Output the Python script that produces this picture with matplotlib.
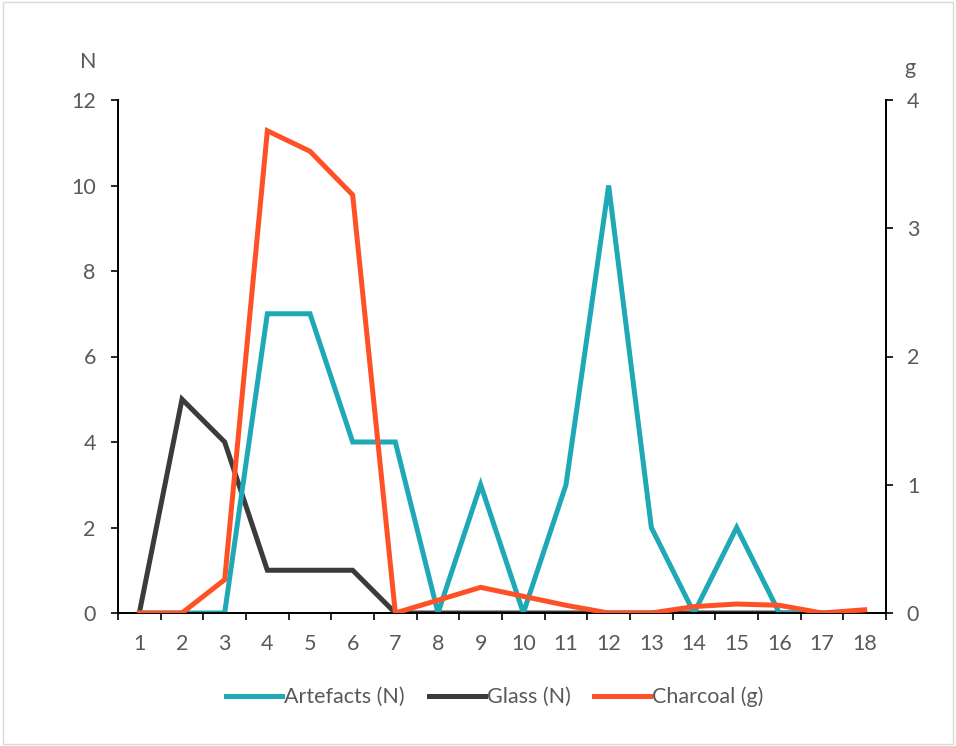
import matplotlib
matplotlib.use("Agg")
import matplotlib.pyplot as plt
from matplotlib.patches import Rectangle

plt.rcParams['font.family'] = ['Lato', 'DejaVu Sans']

categories = [str(i) for i in range(1, 19)]
artefacts = [0, 0, 0, 7, 7, 4, 4, 0, 3, 0, 3, 10, 2, 0, 2, 0, 0, 0]
glass = [0, 5, 4, 1, 1, 1, 0, 0, 0, 0, 0, 0, 0, 0, 0, 0, 0, None]
charcoal = [0, 0, 0.26, 3.76, 3.60, 3.26, 0, 0.10, 0.20, 0.13, 0.06, 0, 0, 0.05, 0.07, 0.06, 0, 0.025]
left_ticks = [0, 2, 4, 6, 8, 10, 12]
right_ticks = [0, 1, 2, 3, 4]

TEAL = '#1FA9B6'
DARK = '#3B3B3B'
ORANGE = '#FF5126'
GREY = '#595959'
FS = 15.5

fig = plt.figure(figsize=(9.56, 7.46), dpi=100)
fig.patches.append(Rectangle((0.003, 0.003), 0.994, 0.994, transform=fig.transFigure,
                             fill=False, edgecolor='#D9D9D9', linewidth=1))
ax = fig.add_axes([118/956, 1-613/746, 768/956, 513/746])
ax2 = ax.twinx()

x = list(range(1, len(categories) + 1))
gx = [xi for xi, g in zip(x, glass) if g is not None]
gy = [g for g in glass if g is not None]

LW = 3.6
l1, = ax.plot(x, artefacts, color=TEAL, lw=LW, label='Artefacts (N)', solid_joinstyle='miter', zorder=3)
l2, = ax.plot(gx, gy, color=DARK, lw=LW, label='Glass (N)', solid_joinstyle='miter', zorder=2)
l3, = ax2.plot(x, charcoal, color=ORANGE, lw=LW, label='Charcoal (g)', solid_joinstyle='miter', zorder=4)

ax.set_xlim(0.5, len(categories) + 0.5)
ax.set_ylim(0, 12)
ax2.set_ylim(0, 4)
ax.set_yticks(left_ticks)
ax2.set_yticks(right_ticks)
ax.set_xticks(x)
ax.set_xticklabels(categories)
ax.set_xticks([i + 0.5 for i in range(0, len(categories) + 1)], minor=True)
ax.tick_params(axis='x', which='major', length=0, pad=15, labelsize=FS, labelcolor=GREY)
ax.tick_params(axis='x', which='minor', length=5, width=1.2, color='black', direction='out')
ax.tick_params(axis='y', length=5, width=1.2, direction='out', labelsize=FS, labelcolor=GREY, pad=11)
ax2.tick_params(axis='y', length=5, width=1.2, direction='out', labelsize=FS, labelcolor=GREY, pad=10)

for a in (ax, ax2):
    a.spines['top'].set_visible(False)
    for s in ('left', 'right', 'bottom'):
        a.spines[s].set_color('black')
        a.spines[s].set_linewidth(1.3)
ax.patch.set_visible(False)

fig.text(88/956, 1-62/746, 'N', ha='center', va='center', fontsize=FS, color=GREY)
fig.text(910/956, 1-68/746, 'g', ha='center', va='center', fontsize=FS, color=GREY)

fig.legend(handles=[l1, l2, l3], loc='center', bbox_to_anchor=(495/956, 1-697/746),
           ncol=3, frameon=False, fontsize=FS, labelcolor=GREY, handlelength=2.6,
           handletextpad=0.1, columnspacing=1.1)

fig.savefig('out.png', dpi=100)
